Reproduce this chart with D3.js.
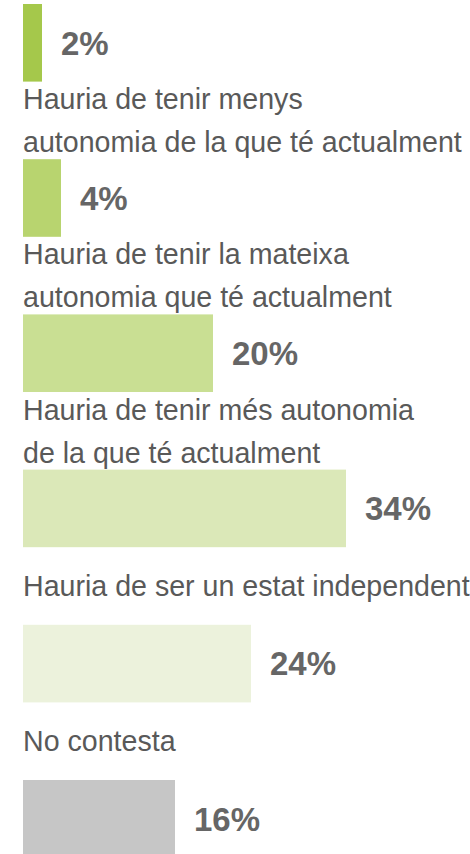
<!DOCTYPE html>
<html>
<head>
<meta charset="utf-8">
<script src="https://cdn.jsdelivr.net/npm/d3@7"></script>
<style>
  html, body { margin: 0; padding: 0; background: #fff; overflow: hidden; }
  svg { display: block; }
</style>
</head>
<body>
<div id="chart"></div>
<script>
// Survey answers, top to bottom
const categories = [
  "No hauria de tenir autonomia",
  "Hauria de tenir menys autonomia de la que té actualment",
  "Hauria de tenir la mateixa autonomia que té actualment",
  "Hauria de tenir més autonomia de la que té actualment",
  "Hauria de ser un estat independent",
  "No contesta"
];
// Line breaks used for each category label (the first one sits above the view)
const labelLines = [
  [],
  ["Hauria de tenir menys", "autonomia de la que té actualment"],
  ["Hauria de tenir la mateixa", "autonomia que té actualment"],
  ["Hauria de tenir més autonomia", "de la que té actualment"],
  ["Hauria de ser un estat independent"],
  ["No contesta"]
];
const values = [2, 4, 20, 34, 24, 16];
const colors = ["#a5c84b", "#b8d46f", "#c9df93", "#dbe8b8", "#ecf2dc", "#c6c6c6"];

const W = 470, H = 854;
const svg = d3.select("#chart").append("svg")
  .attr("width", W).attr("height", H);

const x = d3.scaleLinear().domain([0, 100]).range([23, 973]);
const y = d3.scaleBand().domain(categories).range([4, 857.6]).paddingInner(0.5);
const step = y.step();

const rows = categories.map((c, i) => ({ c, v: values[i], color: colors[i], lines: labelLines[i] }));

// Bars
svg.append("g").selectAll("rect").data(rows).join("rect")
  .attr("x", x(0))
  .attr("y", d => y(d.c))
  .attr("width", d => x(d.v) - x(0))
  .attr("height", y.bandwidth())
  .attr("fill", d => d.color);

// Value labels beside each bar
svg.append("g").selectAll("text").data(rows).join("text")
  .attr("x", d => x(d.v) + 19)
  .attr("y", d => y(d.c) + y.bandwidth() / 2)
  .attr("dy", "0.36em")
  .attr("font-family", "'Liberation Sans', Arial, sans-serif")
  .attr("font-weight", "bold")
  .attr("font-size", 33)
  .attr("fill", "#666666")
  .text(d => d.v + "%");

// Category labels centered in the gap above each bar
const fs = 28.6, lineH = 43;
const cat = svg.append("g").selectAll("text").data(rows.filter(d => d.lines.length)).join("text")
  .attr("font-family", "'Liberation Sans', Arial, sans-serif")
  .attr("font-size", fs)
  .attr("fill", "#595959")
  .attr("x", x(0))
  .attr("y", d => y(d.c) - (step - y.bandwidth()) / 2);
cat.selectAll("tspan").data(d => d.lines.map((t, k) => ({ t, k, n: d.lines.length }))).join("tspan")
  .attr("x", x(0))
  .attr("dy", l => l.k === 0 ? (0.36 * fs - (l.n - 1) * lineH / 2) : lineH)
  .text(l => l.t);
</script>
</body>
</html>
